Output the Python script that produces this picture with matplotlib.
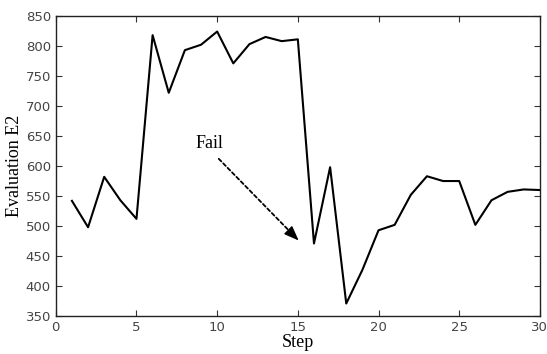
import matplotlib
matplotlib.use("Agg")
import matplotlib.pyplot as plt

# Data
steps = list(range(1, 31))
evaluation = [542, 498, 582, 543, 512, 818, 722, 793, 802, 824,
              771, 803, 815, 808, 811, 471, 598, 371, 427, 493,
              502, 552, 583, 575, 575, 502, 543, 557, 561, 560]
xticks = [0, 5, 10, 15, 20, 25, 30]
yticks = [350, 400, 450, 500, 550, 600, 650, 700, 750, 800, 850]

fig = plt.figure(figsize=(5.47, 3.54), dpi=100)
ax = fig.add_axes([0.102, 0.107, 0.885, 0.848])
ax.plot(steps, evaluation, color="black", linewidth=1.5)

ax.set_xlim(0, 30)
ax.set_ylim(350, 850)
ax.set_xticks(xticks)
ax.set_yticks(yticks)
ax.tick_params(direction="in", top=True, right=True, length=4,
               labelsize=9.5, colors="#333333", labelcolor="#444444")
for s in ax.spines.values():
    s.set_color("#222222")
    s.set_linewidth(1.0)

ax.set_xlabel("Step", family="Liberation Serif", fontsize=13, labelpad=0)
ax.set_ylabel("Evaluation E2", family="Liberation Serif", fontsize=13, labelpad=2)

# Fail annotation: dashed shaft plus solid head
tip = (15.05, 476)
ax.annotate("", xy=tip, xytext=(10.1, 612),
            arrowprops=dict(arrowstyle="-", linestyle=(0, (2, 1.5)),
                            color="black", lw=1.3, shrinkA=0, shrinkB=4))
ax.annotate("", xy=tip, xytext=(14.6, 488),
            arrowprops=dict(arrowstyle="-|>,head_length=0.9,head_width=0.35",
                            color="black", lw=1.0, mutation_scale=10,
                            shrinkA=0, shrinkB=0))
ax.text(9.55, 638, "Fail", family="Liberation Serif", fontsize=13,
        ha="center", va="center")

fig.savefig("out.png", dpi=100)
